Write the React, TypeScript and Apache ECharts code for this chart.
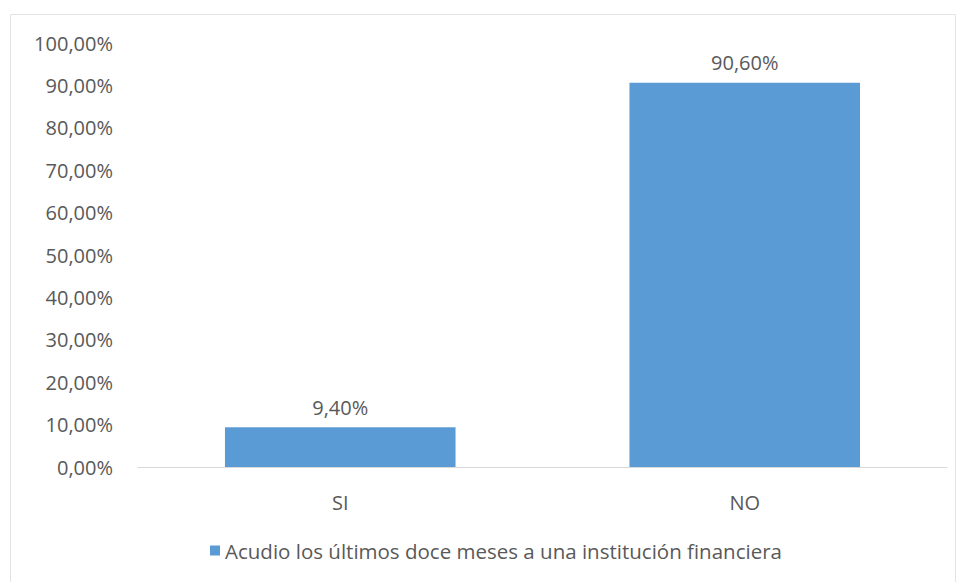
import React, { useEffect, useRef } from "react";
import * as echarts from "echarts";

const categories = ["SI", "NO"];
const values = [9.4, 90.6];
const seriesName = "Acudio los últimos doce meses a una institución financiera";

const fmt = (v: number) => v.toFixed(2).replace(".", ",") + "%";

export default function App() {
  const ref = useRef<HTMLDivElement>(null);
  useEffect(() => {
    document.body.style.margin = "0";
    const chart = echarts.init(ref.current!, undefined, { renderer: "svg" });
    const font = "Open Sans";
    const fs = 20;
    chart.setOption({
      animation: false,
      backgroundColor: "#ffffff",
      graphic: [
        {
          type: "rect",
          shape: { x: 10.5, y: 14.5, width: 945, height: 580 },
          style: { fill: "none", stroke: "#e3e3e3", lineWidth: 1 },
          silent: true,
        },
      ],
      grid: { left: 138, right: 13, top: 43, bottom: 115 },
      xAxis: {
        type: "category",
        data: categories,
        axisLine: { show: true, lineStyle: { color: "#d9d9d9", width: 1 } },
        axisTick: { show: false },
        axisLabel: { color: "#595959", fontSize: fs, fontFamily: font, margin: 25 },
      },
      yAxis: {
        type: "value",
        min: 0,
        max: 100,
        interval: 10,
        axisLine: { show: false },
        axisTick: { show: false },
        splitLine: { show: false },
        axisLabel: {
          color: "#595959",
          fontSize: fs,
          fontFamily: font,
          margin: 25,
          formatter: (v: number) => fmt(v),
        },
      },
      legend: {
        show: true,
        bottom: 16,
        left: 205,
        itemWidth: 10,
        itemHeight: 10,
        itemGap: 8,
        icon: "rect",
        textStyle: { color: "#595959", fontSize: 20.5, fontFamily: font },
        data: [seriesName],
      },
      series: [
        {
          name: seriesName,
          type: "bar",
          data: values,
          barWidth: "57%",
          itemStyle: { color: "#5b9bd5" },
          label: {
            show: true,
            position: "top",
            distance: 10,
            color: "#595959",
            fontSize: fs,
            fontFamily: font,
            formatter: (p: any) => fmt(p.value),
          },
        },
      ],
    });
    return () => chart.dispose();
  }, []);
  return <div ref={ref} style={{ width: 960, height: 582 }} />;
}
